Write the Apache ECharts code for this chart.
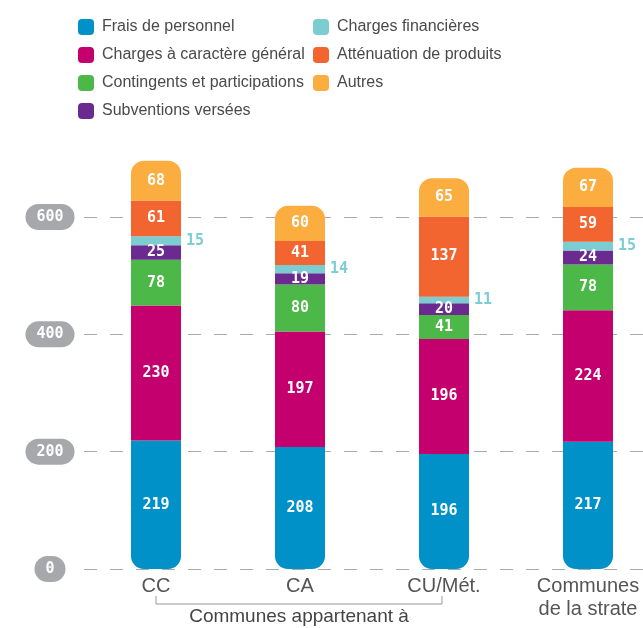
<!DOCTYPE html>
<html><head><meta charset="utf-8">
<script src="https://cdn.jsdelivr.net/npm/echarts@6/dist/echarts.min.js"></script>
<style>html,body{margin:0;padding:0;background:#fff}#c{width:643px;height:628px}</style>
</head><body><div id="c"></div>
<script>
const categories = ['CC', 'CA', 'CU/Mét.', 'Communes\nde la strate'];
const fraisPersonnel = [219, 208, 196, 217];
const chargesGenerales = [230, 197, 196, 224];
const contingents = [78, 80, 41, 78];
const subventions = [25, 19, 20, 24];
const chargesFinancieres = [15, 14, 11, 15];
const attenuation = [61, 41, 137, 59];
const autres = [68, 60, 65, 67];
const yTicks = [0, 200, 400, 600];
const bracketLabel = 'Communes appartenant à';

const TXT = '"Liberation Sans", sans-serif';
const NUM = '"DejaVu Sans Mono", monospace';
const chart = echarts.init(document.getElementById('c'));

function ser(name, data, color, opts) {
  return Object.assign({
    name, type: 'bar', stack: 'total', data, barWidth: 50, clip: false,
    itemStyle: { color },
    label: { show: true, position: 'inside', color: '#fff', fontFamily: NUM, fontWeight: 'bold', fontSize: 15 }
  }, opts || {});
}

const legendText = { color: '#4a4a4a', fontFamily: TXT, fontSize: 16, lineHeight: 16, padding: [0, 0, 0, 3] };
chart.setOption({
  animation: false,
  legend: [
    { data: ['Frais de personnel', 'Charges à caractère général', 'Contingents et participations', 'Subventions versées'],
      orient: 'vertical', left: 78, top: 19, padding: 0, itemWidth: 16, itemHeight: 16, itemGap: 12, icon: 'roundRect',
      selectedMode: false, textStyle: legendText },
    { data: ['Charges financières', 'Atténuation de produits', 'Autres'],
      orient: 'vertical', left: 313, top: 19, padding: 0, itemWidth: 16, itemHeight: 16, itemGap: 12, icon: 'roundRect',
      selectedMode: false, textStyle: legendText }
  ],
  grid: { left: 84, top: 217, width: 576, height: 352, containLabel: false, outerBoundsMode: 'none' },
  xAxis: {
    type: 'category', data: categories,
    axisLine: { show: false }, axisTick: { show: false },
    axisLabel: { color: '#555', fontFamily: TXT, fontSize: 20, lineHeight: 23, margin: 6, interval: 0 }
  },
  yAxis: {
    type: 'value', min: 0, max: 600, interval: 200,
    axisLine: { show: false }, axisTick: { show: false },
    splitLine: { lineStyle: { color: '#aaa', type: [13, 13], width: 1 } },
    axisLabel: {
      align: 'center', margin: 34, color: '#fff', fontFamily: NUM, fontWeight: 'bold', fontSize: 15,
      backgroundColor: '#a7a8ab', borderRadius: 13, padding: [6, 11, 5, 11]
    }
  },
  series: [
    ser('Frais de personnel', fraisPersonnel, '#0091c8', { itemStyle: { color: '#0091c8', borderRadius: [0, 0, 13, 13] } }),
    ser('Charges à caractère général', chargesGenerales, '#c4006f'),
    ser('Contingents et participations', contingents, '#4cb848'),
    ser('Subventions versées', subventions, '#6b2a8f'),
    ser('Charges financières', chargesFinancieres, '#7bcdd1', {
      label: { show: true, position: 'right', distance: 5, color: '#7bcdd1', fontFamily: NUM, fontWeight: 'bold', fontSize: 15 }
    }),
    ser('Atténuation de produits', attenuation, '#f26430'),
    ser('Autres', autres, '#fbad3f', { itemStyle: { color: '#fbad3f', borderRadius: [13, 13, 0, 0] } })
  ]
});

const x0 = chart.convertToPixel({ xAxisIndex: 0 }, categories[0]);
const x2 = chart.convertToPixel({ xAxisIndex: 0 }, categories[2]) - 2;
const yb = chart.convertToPixel({ yAxisIndex: 0 }, 0);
chart.setOption({
  graphic: [
    { type: 'polyline', shape: { points: [[x0, yb + 27], [x0, yb + 35], [x2, yb + 35], [x2, yb + 27]] },
      style: { stroke: '#999', lineWidth: 1, fill: null } },
    { type: 'text', x: (x0 + x2) / 2, y: yb + 48,
      style: { text: bracketLabel, fill: '#444', font: '19px ' + TXT, textAlign: 'center', textVerticalAlign: 'middle' } }
  ]
});
</script></body></html>
